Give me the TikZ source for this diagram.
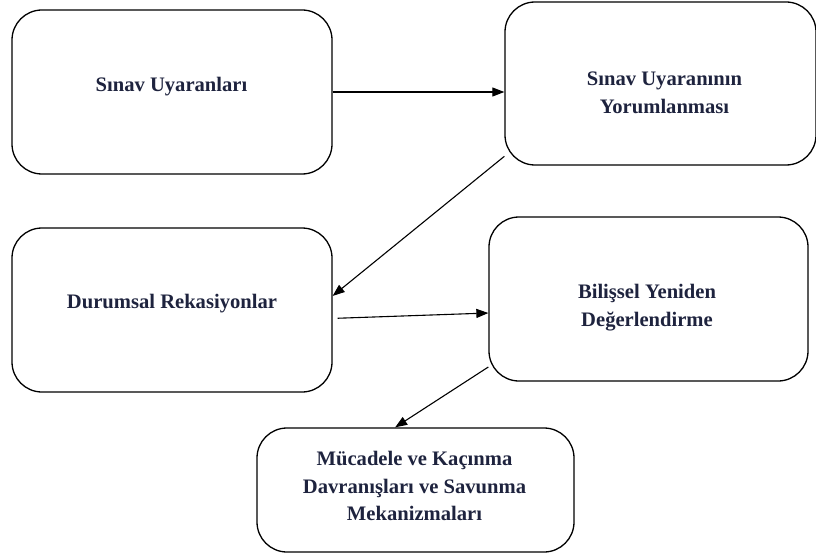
\documentclass[tikz,border=0pt]{standalone}
\usepackage{fontspec}
\setmainfont{Liberation Serif}
\usetikzlibrary{arrows.meta}
\definecolor{textnavy}{RGB}{30,35,62}

\begin{document}
\begin{tikzpicture}[
        x=1pt,y=-1pt,
        stagetext/.style={font=\fontsize{20.6}{27.8}\selectfont\bfseries,text=textnavy,align=center},
        stagebox/.style={draw,line width=1.3pt,rounded corners=30pt,inner sep=0pt},
        flow/.style={line width=1.1pt,-{Triangle[length=12pt,width=9pt]}}]

    \useasboundingbox (0,0) rectangle (816,559);

    % boxes
    \node[stagebox,minimum width=320pt,minimum height=164pt] (uyaran)   at (172,92)     {};
    \node[stagebox,minimum width=311pt,minimum height=163pt] (yorum)    at (660.5,83.5) {};
    \node[stagebox,minimum width=320pt,minimum height=164pt] (durum)    at (172,310)    {};
    \node[stagebox,minimum width=319pt,minimum height=164pt] (bilis)    at (648.5,299)  {};
    \node[stagebox,minimum width=317pt,minimum height=124pt] (mucadele) at (415.5,490)  {};

    % texts
    \node[stagetext] (uyarantext)   at (171.5,87)  {Sınav Uyaranları};
    \node[stagetext] (yorumtext)    at (664.5,93)  {Sınav Uyaranının\\Yorumlanması};
    \node[stagetext] (durumtext)    at (172,304)   {Durumsal Rekasiyonlar};
    \node[stagetext] (bilistext)    at (647,308)   {Bilişsel Yeniden\\Değerlendirme};
    \node[stagetext] (mucadeletext) at (414.5,486) {Mücadele ve Kaçınma\\Davranışları ve Savunma\\Mekanizmaları};

    % arrows
    \draw[flow] (uyaran.east) -- (uyaran.east -| yorum.west);
    \draw[flow] (yorum.205) -- (durum.5);
    \draw[flow,shorten <=5pt] (durum.-3) -- (bilis.185);
    \draw[flow] (bilis.203) -- (mucadele.108);
\end{tikzpicture}
\end{document}
